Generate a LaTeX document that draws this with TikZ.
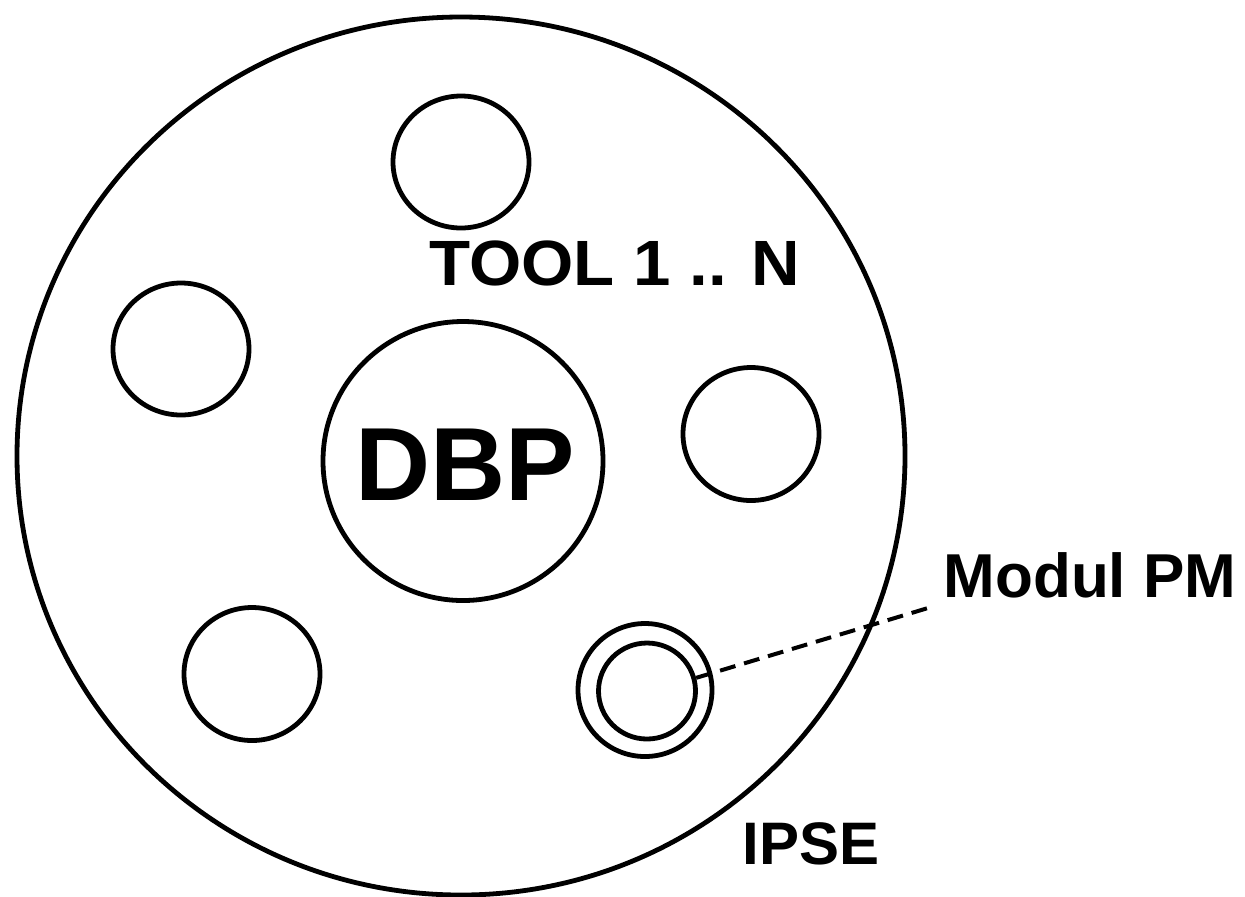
\documentclass[tikz,border=0pt]{standalone}
\usepackage{fontspec}
\setmainfont{Liberation Sans}
\usetikzlibrary{shapes.geometric}
\begin{document}
\begin{tikzpicture}[x=0.5pt,y=-0.5pt,
  oval/.style n args={2}{draw, ellipse, line width=2.4pt, inner sep=0pt,
    minimum width=#1pt, minimum height=#2pt},
  lbl/.style={font=\bfseries\fontsize{#1}{#1}\selectfont, inner sep=0pt, anchor=center}]
\useasboundingbox (0,0) rectangle (1245,896);
\node[oval={444}{439}] (ipse) at (461,456) {};
\node[oval={68}{66}] (t1) at (461,162) {};
\node[oval={68}{66}] (t2) at (181,349) {};
\node[oval={140}{139.5}] (dbp) at (463,461) {};
\node[oval={68}{66.5}] (t3) at (751,434) {};
\node[oval={68}{66.5}] (t4) at (252,674) {};
\node[oval={67}{66.5}] (pmout) at (645,690) {};
\node[oval={48.5}{48}] (pmin) at (647,691) {};
\node[lbl=52] (dbplbl) at (465,465) {DBP};
\node[lbl=32, xscale=1.05] (tool) at (615,263) {TOOL 1 .. N};
\node[lbl=31] (pm) at (1090,575) {Modul PM};
\node[lbl=30] (ipselbl) at (811,844) {IPSE};
\coordinate (pmend) at (928,608);
\draw[line width=2pt, dash pattern=on 8pt off 4.5pt] (pmin.15) -- (pmend);
\end{tikzpicture}
\end{document}
